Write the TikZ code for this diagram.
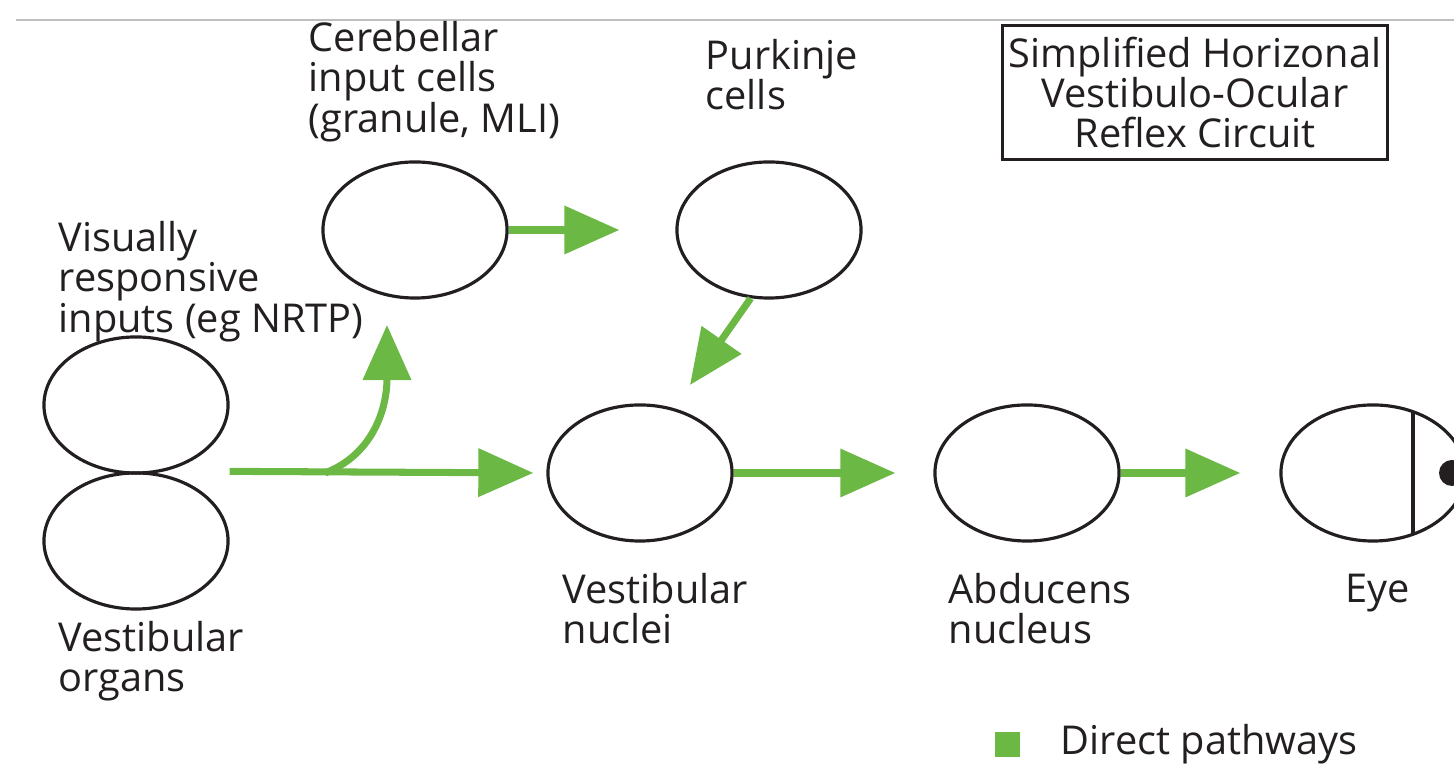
\documentclass[tikz,border=0pt]{standalone}
\usepackage{fontspec}
\setmainfont{Open Sans}
\usetikzlibrary{shapes.geometric,arrows.meta}

\definecolor{pathgreen}{RGB}{108,184,68}
\definecolor{inkgray}{RGB}{35,31,32}

\tikzset{
  cell/.style={draw=inkgray, line width=0.9pt, ellipse, minimum width=1.84cm, minimum height=1.36cm, inner sep=0pt},
  lbl/.style={anchor=north west, inner sep=0pt, align=left, text=inkgray, font=\fontsize{11.3}{11.4}\selectfont},
  path/.style={draw=pathgreen, line width=2pt, -{Triangle[length=0.55cm, width=0.47cm]}}
}

\begin{document}
\begin{tikzpicture}[x=0.01cm, y=-0.01cm]

\useasboundingbox (0,0) rectangle (1454,774);
\draw[gray!50, line width=0.8pt] (16,20) -- (1454,20);

% cells
\node[cell] (cin) at (415,230) {};
\node[cell] (pk) at (769,230) {};
\node[cell] (vis) at (136,405) {};
\node[cell] (vo) at (136,541) {};
\node[cell] (vn) at (640,473) {};
\node[cell] (abd) at (1027,473) {};
\node[cell] (eye) at (1373,473) {};

% eye lens and pupil
\begin{scope}
  \clip (eye.center) ellipse [x radius=92, y radius=68];
  \draw[inkgray, line width=0.9pt] (1413,400) -- (1413,550);
\end{scope}
\fill[inkgray] (1452,473) circle [radius=13];

% labels
\node[lbl] (l1) at (308,21) {Cerebellar\\input cells\\(granule, MLI)};
\node[lbl] (l2) at (705,39) {Purkinje\\cells};
\node[lbl] (l3) at (58,221) {Visually\\responsive\\inputs (eg NRTP)};
\node[lbl] (l4) at (58,621) {Vestibular\\organs};
\node[lbl] (l5) at (562,573) {Vestibular\\nuclei};
\node[lbl] (l6) at (948,573) {Abducens\\nucleus};
\node[lbl] (l7) at (1345,573) {Eye};

% title box
\node[draw=inkgray, line width=0.9pt, inner xsep=0.04cm, minimum width=3.84cm, minimum height=1.25cm, align=center, text=inkgray,
      font=\fontsize{11.3}{11.4}\selectfont] (title) at (1195,92.5) {Simplified Horizonal\\Vestibulo-Ocular\\Reflex Circuit};

% pathways
\coordinate (split) at (vis.east |- vo.north);
\coordinate (fork) at (325,473);
\draw[path, shorten >=0.56cm] (cin.east) -- (pk.west);
\draw[path, shorten >=0.13cm] (split) -- (vn.west);
\draw[path] (fork) .. controls (372,455) and (387,410) .. (387,325);
\draw[path] (pk.255) -- (690,385);
\draw[path, shorten >=0.38cm] (vn.east) -- (abd.west);
\draw[path, shorten >=0.39cm] (abd.east) -- (eye.west);

% legend
\fill[pathgreen] (995,732) rectangle (1020,757);
\node[lbl, anchor=west] (leg) at (1060,744) {Direct pathways};

\end{tikzpicture}
\end{document}
